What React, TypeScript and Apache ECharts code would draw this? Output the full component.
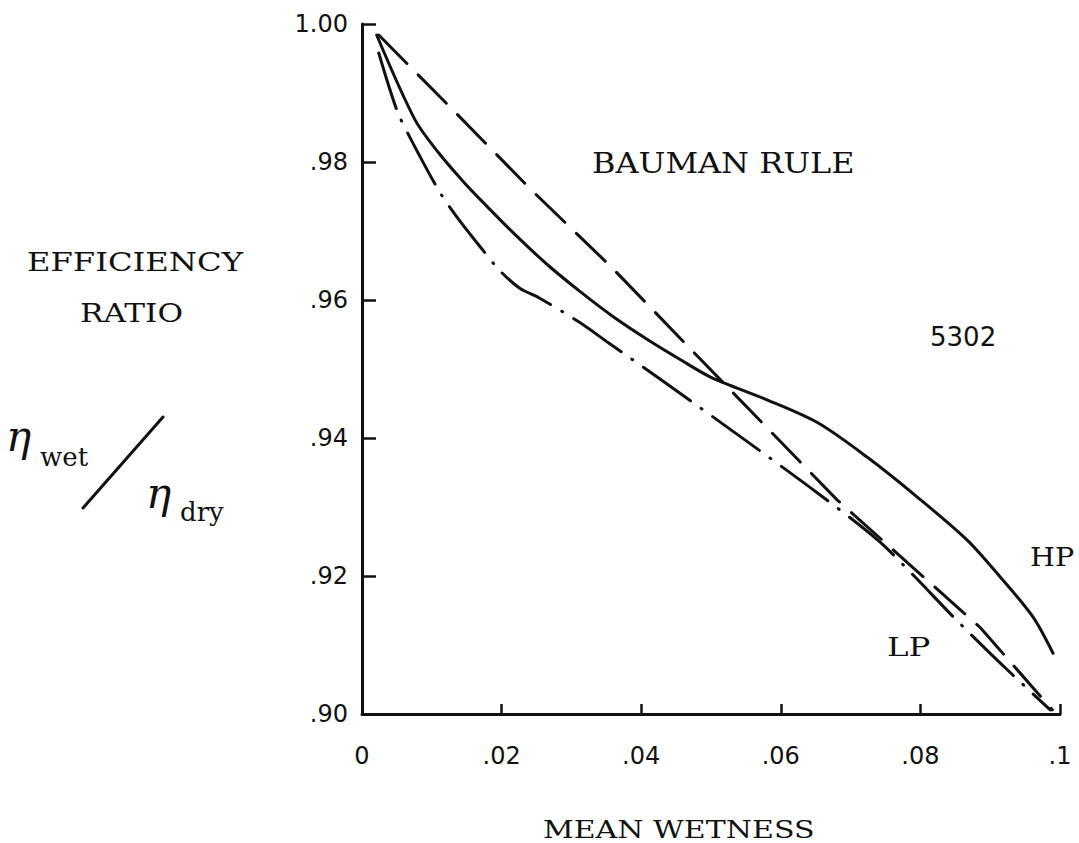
import React, { useEffect, useRef } from "react";
import * as echarts from "echarts";

// Bauman rule (dashed)
const bauX = [0.0024, 0.0119, 0.0243, 0.0357, 0.0486, 0.0681, 0.0886, 0.0989];
const bauY = [0.9984, 0.9887, 0.9759, 0.9648, 0.9513, 0.931, 0.9125, 0.9006];

// HP (solid)
const hpX = [0.0021, 0.0076, 0.011, 0.0143, 0.0171, 0.0219, 0.0267, 0.0314, 0.0361, 0.041, 0.0457, 0.05, 0.0581, 0.0653, 0.0724, 0.0796, 0.0867, 0.0914, 0.0961, 0.099];
const hpY = [0.9984, 0.9861, 0.9813, 0.9774, 0.9744, 0.9695, 0.965, 0.9611, 0.9575, 0.9542, 0.9513, 0.9488, 0.9455, 0.9422, 0.9372, 0.9314, 0.9252, 0.9199, 0.9141, 0.9088];

// LP (dash-dot)
const lpX = [0.0024, 0.005, 0.0069, 0.0111, 0.0139, 0.0171, 0.0197, 0.0226, 0.0254, 0.0311, 0.0353, 0.0429, 0.0553, 0.0653, 0.0739, 0.079, 0.0847, 0.091, 0.0986];
const lpY = [0.9958, 0.9875, 0.9835, 0.9757, 0.9716, 0.9675, 0.9643, 0.9617, 0.9603, 0.9568, 0.9538, 0.9484, 0.9394, 0.932, 0.9252, 0.9201, 0.9141, 0.9078, 0.9006];

const xTickLabels: Record<string, string> = { "0": "0", "0.02": ".02", "0.04": ".04", "0.06": ".06", "0.08": ".08", "0.1": ".1" };
const yTickLabels: Record<string, string> = { "0.9": ".90", "0.92": ".92", "0.94": ".94", "0.96": ".96", "0.98": ".98", "1": "1.00" };

const INK = "#111";
const SERIF = "'DejaVu Serif', 'Liberation Serif', serif";
const SANS = "'DejaVu Sans', 'Liberation Sans', sans-serif";

const zip = (xs: number[], ys: number[]) => xs.map((x, i) => [x, ys[i]]);

export default function App() {
  const ref = useRef<HTMLDivElement>(null);
  useEffect(() => {
    if (!ref.current) return;
    const chart = echarts.init(ref.current, null, { renderer: "svg" });
    const word = (text: string, x: number, y: number, size: number, sx: number, family = SERIF, extra: any = {}) => ({
      type: "text",
      x,
      y,
      scaleX: sx,
      style: {
        text,
        fontSize: size,
        fontFamily: family,
        fill: INK,
        textAlign: "left",
        textVerticalAlign: "middle",
        ...extra,
      },
    });
    chart.setOption({
      animation: false,
      backgroundColor: "#fff",
      grid: { left: 362, top: 24, width: 698, height: 690, containLabel: false },
      xAxis: {
        type: "value",
        min: 0,
        max: 0.1,
        interval: 0.02,
        splitLine: { show: false },
        axisLine: { show: true, onZero: false, lineStyle: { color: INK, width: 3 } },
        axisTick: { show: true, inside: true, length: 10, lineStyle: { color: INK, width: 2.5 } },
        axisLabel: {
          margin: 30,
          color: INK,
          fontSize: 24,
          fontFamily: SANS,
          formatter: (v: number) => xTickLabels[String(+v.toFixed(2))] ?? String(v),
        },
      },
      yAxis: {
        type: "value",
        min: 0.9,
        max: 1.0,
        interval: 0.02,
        splitLine: { show: false },
        axisLine: { show: true, onZero: false, lineStyle: { color: INK, width: 3 } },
        axisTick: { show: true, inside: true, length: 14, lineStyle: { color: INK, width: 2.5 } },
        axisLabel: {
          margin: 14,
          color: INK,
          fontSize: 24,
          fontFamily: SANS,
          formatter: (v: number) => yTickLabels[String(+v.toFixed(2))] ?? String(v),
        },
      },
      series: [
        {
          name: "BAUMAN RULE",
          type: "line",
          data: zip(bauX, bauY),
          showSymbol: false,
          smooth: false,
          lineStyle: { color: INK, width: 3, type: [40, 16], cap: "round" },
        },
        {
          name: "HP",
          type: "line",
          data: zip(hpX, hpY),
          showSymbol: false,
          smooth: 0.3,
          lineStyle: { color: INK, width: 3, type: "solid", cap: "round" },
        },
        {
          name: "LP",
          type: "line",
          data: zip(lpX, lpY),
          showSymbol: false,
          smooth: 0.3,
          lineStyle: { color: INK, width: 3, type: [58, 13, 1, 13], cap: "round" },
        },
      ],
      graphic: [
        word("BAUMAN RULE", 592, 163, 28, 1.14),
        word("5302", 930, 337, 26, 1.0, SANS),
        word("HP", 1030, 557, 26, 1.1),
        word("LP", 887, 647, 26, 1.25),
        word("MEAN WETNESS", 543, 830, 24, 1.25),
        word("EFFICIENCY", 27, 262, 26, 1.24),
        word("RATIO", 80, 313, 26, 1.2),
        word("η", 6, 436, 42, 1.0, SERIF, { fontStyle: "italic" }),
        word("wet", 40, 457, 26, 1.0),
        {
          type: "line",
          shape: { x1: 163, y1: 417, x2: 83, y2: 508 },
          style: { stroke: INK, lineWidth: 3, lineCap: "round" },
        },
        word("η", 146, 493, 42, 1.0, SERIF, { fontStyle: "italic" }),
        word("dry", 180, 512, 26, 1.0),
      ],
    });
    return () => chart.dispose();
  }, []);
  return (
    <div
      ref={ref}
      style={{ position: "absolute", left: 0, top: 0, width: 1079, height: 843, background: "#fff" }}
    />
  );
}
